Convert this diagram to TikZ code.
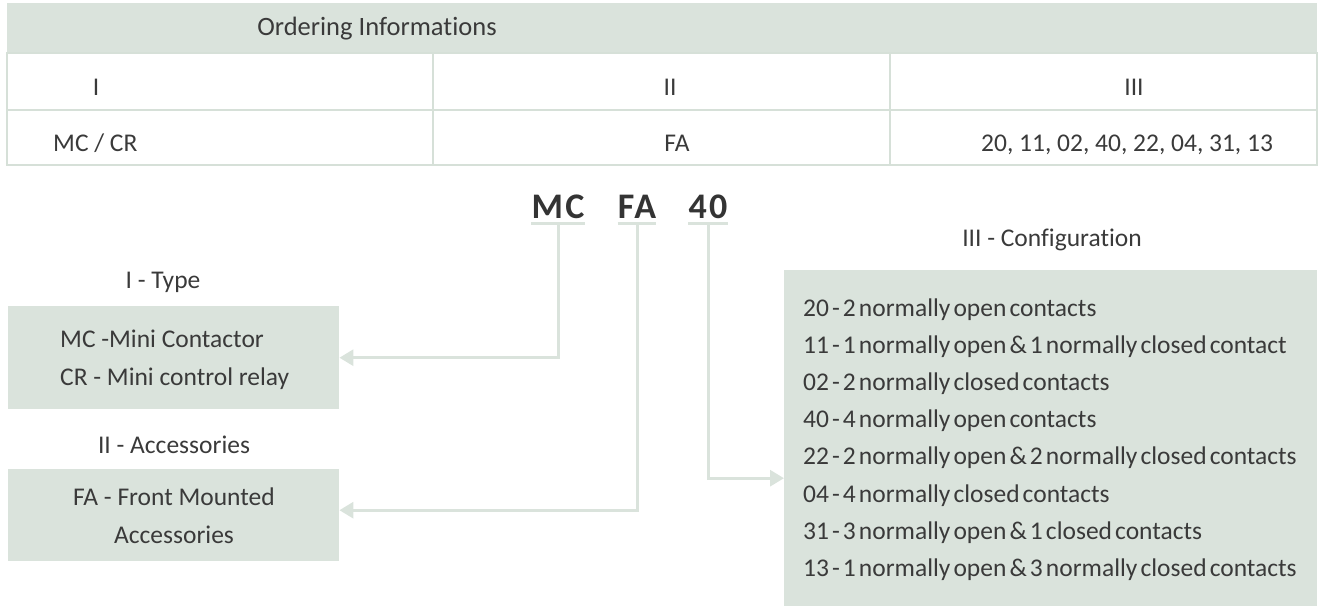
\documentclass[tikz,border=0pt]{standalone}
\usepackage{fontspec}
\setmainfont{Carlito}[Ligatures=NoCommon]
\usetikzlibrary{positioning,arrows.meta,calc}
\definecolor{verdeclaro}{HTML}{DAE3DC}
\definecolor{grade}{HTML}{D6E0D8}
\definecolor{texto}{HTML}{3A3A3A}
\newcommand\fonteconfig{\fontsize{25.5}{30}\selectfont\spaceskip=0.12em\relax}

\tikzset{
  caixa/.style={fill=verdeclaro, inner sep=0pt, anchor=north west},
  rotulo/.style={text=texto, inner sep=0pt, font=\fontsize{25.5}{30}\selectfont},
  codigo/.style={text=texto!90!black, inner xsep=0pt, inner ysep=5pt, text depth=0pt, anchor=base,
    font=\bfseries\fontsize{36}{40}\selectfont\addfontfeatures{LetterSpace=6}},
  ligacao/.style={draw=verdeclaro, line width=3pt, -{Triangle[width=16pt,length=14pt]}},
  sublinha/.style={draw=verdeclaro, line width=3pt},
}

\begin{document}
\begin{tikzpicture}[x=1pt, y=-1pt]
        \useasboundingbox (0,0) rectangle (1322,608);

        % Tabela
        \fill[verdeclaro] (7,3) rectangle (1317,53);
        \draw[grade, line width=2pt] (7,53) rectangle (1317,165);
        \draw[grade, line width=2pt] (7,110) -- (1317,110);
        \draw[grade, line width=2pt] (433,53) -- (433,165);
        \draw[grade, line width=2pt] (890,53) -- (890,165);
        \node[rotulo, anchor=base, font=\fontsize{26.5}{30}\selectfont] (titulo) at (377,35) {Ordering Informations};
        \node[rotulo, anchor=base] (col1) at (96,95) {I};
        \node[rotulo, anchor=base] (col2) at (670,95) {II};
        \node[rotulo, anchor=base] (col3) at (1134,95) {III};
        \node[rotulo, anchor=base west] (val1) at (53,151) {MC / CR};
        \node[rotulo, anchor=base] (val2) at (677,151) {FA};
        \node[rotulo, anchor=base] (val3) at (1127,151) {20, 11, 02, 40, 22, 04, 31, 13};

        % Codigo
        \node[codigo] (cMC) at (558,218) {MC};
        \node[codigo] (cFA) at (637,218) {FA};
        \node[codigo] (c40) at (708,218) {40};
        \foreach \c in {cMC,cFA,c40}
          \draw[sublinha] (\c.south west) -- (\c.south east);

        % Caixas
        \node[caixa, minimum width=331pt, minimum height=103pt] (tipo) at (8,306) {};
        \node[caixa, minimum width=331pt, minimum height=92pt] (acess) at (8,469) {};
        \node[caixa, minimum width=533pt, minimum height=336pt] (config) at (784,270) {};

        \node[rotulo, anchor=base] (tTipo) at (163,288) {I - Type};
        \node[rotulo, anchor=base west] (mc) at (60,347) {MC -Mini Contactor};
        \node[rotulo, anchor=base west] (cr) at (60,385) {CR - Mini control relay};

        \node[rotulo, anchor=base] (tAcess) at (174,453) {II - Accessories};
        \node[rotulo, anchor=base] (fa1) at (174,505) {FA - Front Mounted};
        \node[rotulo, anchor=base] (fa2) at (174,543) {Accessories};

        \node[rotulo, anchor=base] (tConfig) at (1052,246) {III - Configuration};
        \foreach \txt [count=\i from 0] in {
            20 - 2 normally open contacts,
            11 - 1 normally open \& 1 normally closed contact,
            02 - 2 normally closed contacts,
            40 - 4 normally open contacts,
            22 - 2 normally open \& 2 normally closed contacts,
            04 - 4 normally closed contacts,
            31 - 3 normally open \& 1 closed contacts,
            13 - 1 normally open \& 3 normally closed contacts}
          \node[rotulo, anchor=base west, font=\fonteconfig] (cfg\i) at (803,316+37.2*\i) {\txt};

        % Ligacoes
        \draw[ligacao] (cMC.south) |- (tipo.east);
        \draw[ligacao] (cFA.south) |- ([yshift=5pt]acess.east);
        \draw[ligacao] (c40.south) |- ([yshift=-40pt]config.west);
    \end{tikzpicture}
\end{document}
